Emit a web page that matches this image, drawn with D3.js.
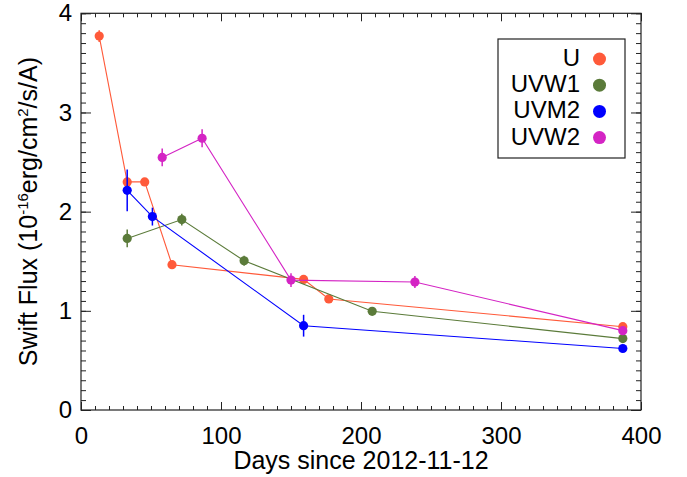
<!DOCTYPE html>
<html>
<head>
<meta charset="utf-8">
<script src="https://cdn.jsdelivr.net/npm/d3@7"></script>
<style>
  body { margin: 0; background: #fff; }
  text { font-family: "Liberation Sans", Arial, sans-serif; fill: #000; }
</style>
</head>
<body>
<div id="chart"></div>
<script>
// Swift UVOT light curves
var bands = ["U", "UVW1", "UVM2", "UVW2"];
var bandColors = ["#ff5a3a", "#5b7b3a", "#0000ff", "#d424c4"];

var uDays = [13, 33, 45.5, 65, 159, 177, 387];
var uFlux = [3.77, 2.30, 2.30, 1.465, 1.317, 1.12, 0.84];
var uErr  = [0.06, 0.04, 0.03, 0.03, 0.03, 0.03, 0.03];

var w1Days = [33, 72, 116.5, 208, 387];
var w1Flux = [1.73, 1.92, 1.505, 0.995, 0.72];
var w1Err  = [0.09, 0.06, 0.05, 0.03, 0.03];

var m2Days = [33, 51, 159, 387];
var m2Flux = [2.215, 1.95, 0.85, 0.62];
var m2Err  = [0.21, 0.09, 0.11, 0.03];

var w2Days = [58, 86.5, 150, 238.5, 387];
var w2Flux = [2.547, 2.74, 1.31, 1.29, 0.80];
var w2Err  = [0.09, 0.09, 0.07, 0.06, 0.04];

var xMajor = [0, 100, 200, 300, 400];
var yMajor = [0, 1, 2, 3, 4];

// canvas
var svgWidth = 687;
var svgHeight = 477;
var margin = { top: 13.3, right: 46, bottom: 67, left: 81 };
var chartWidth = svgWidth - margin.left - margin.right;
var chartHeight = svgHeight - margin.top - margin.bottom;

var svg = d3.select("#chart").append("svg")
    .attr("width", svgWidth)
    .attr("height", svgHeight);

var chartGroup = svg.append("g")
    .attr("transform", `translate(${margin.left}, ${margin.top})`);

var xScale = d3.scaleLinear().domain([0, 400]).range([0, chartWidth]);
var yScale = d3.scaleLinear().domain([0, 4]).range([chartHeight, 0]);

var axisColor = "#222";

// minor ticks, all four sides, pointing inward
function minor(axis, g) {
    g.call(axis).select(".domain").remove();
    g.selectAll("line").attr("stroke", axisColor);
}
var xMinor = d3.range(0, 401, 10);
var yMinor = d3.range(0, 4.01, 0.1);

minor(d3.axisBottom(xScale).tickValues(xMinor).tickSizeInner(-4).tickSizeOuter(0).tickFormat(""),
    chartGroup.append("g").attr("transform", `translate(0, ${chartHeight})`));
minor(d3.axisTop(xScale).tickValues(xMinor).tickSizeInner(-4).tickSizeOuter(0).tickFormat(""),
    chartGroup.append("g"));
minor(d3.axisLeft(yScale).tickValues(yMinor).tickSizeInner(-5).tickSizeOuter(0).tickFormat(""),
    chartGroup.append("g"));
minor(d3.axisRight(yScale).tickValues(yMinor).tickSizeInner(-5).tickSizeOuter(0).tickFormat(""),
    chartGroup.append("g").attr("transform", `translate(${chartWidth}, 0)`));

// major ticks
var xAxis = chartGroup.append("g")
    .attr("transform", `translate(0, ${chartHeight})`)
    .call(d3.axisBottom(xScale).tickValues(xMajor).tickSizeInner(-8).tickSizeOuter(0)
        .tickPadding(16.5).tickFormat(d3.format("d")));
var xTop = chartGroup.append("g")
    .call(d3.axisTop(xScale).tickValues(xMajor).tickSizeInner(-8).tickSizeOuter(0).tickFormat(""));
var yAxis = chartGroup.append("g")
    .call(d3.axisLeft(yScale).tickValues(yMajor).tickSizeInner(-10).tickSizeOuter(0)
        .tickPadding(9).tickFormat(d3.format("d")));
var yRight = chartGroup.append("g")
    .attr("transform", `translate(${chartWidth}, 0)`)
    .call(d3.axisRight(yScale).tickValues(yMajor).tickSizeInner(-10).tickSizeOuter(0).tickFormat(""));

[xAxis, xTop, yAxis, yRight].forEach(function (g) {
    g.select(".domain").remove();
    g.selectAll("line").attr("stroke", axisColor);
    g.selectAll("text")
        .style("font-family", '"Liberation Sans", Arial, sans-serif')
        .style("font-size", "24px")
        .attr("fill", "#000");
});

// frame
chartGroup.append("rect")
    .attr("width", chartWidth)
    .attr("height", chartHeight)
    .attr("fill", "none")
    .attr("stroke", axisColor)
    .attr("stroke-width", 1.2);

// series
var series = [
    { days: uDays, flux: uFlux, err: uErr },
    { days: w1Days, flux: w1Flux, err: w1Err },
    { days: m2Days, flux: m2Flux, err: m2Err },
    { days: w2Days, flux: w2Flux, err: w2Err }
];

var line = d3.line()
    .x(d => xScale(d.day))
    .y(d => yScale(d.flux));

series.forEach(function (s, i) {
    var pts = s.days.map((d, j) => ({ day: d, flux: s.flux[j], err: s.err[j] }));
    var color = bandColors[i];
    var g = chartGroup.append("g");

    g.append("path")
        .datum(pts)
        .attr("d", line)
        .attr("fill", "none")
        .attr("stroke", color)
        .attr("stroke-width", 1.1);

    g.selectAll("line.err")
        .data(pts)
        .enter()
        .append("line")
        .attr("x1", d => xScale(d.day))
        .attr("x2", d => xScale(d.day))
        .attr("y1", d => yScale(d.flux - d.err))
        .attr("y2", d => yScale(d.flux + d.err))
        .attr("stroke", color)
        .attr("stroke-width", 1.5);

    g.selectAll("circle")
        .data(pts)
        .enter()
        .append("circle")
        .attr("cx", d => xScale(d.day))
        .attr("cy", d => yScale(d.flux))
        .attr("r", 4.6)
        .attr("fill", color);
});

// axis titles
svg.append("text")
    .attr("x", margin.left + chartWidth / 2)
    .attr("y", 469)
    .attr("text-anchor", "middle")
    .style("font-size", "25px")
    .text("Days since 2012-11-12");

var yTitle = svg.append("text")
    .attr("transform", `translate(37, ${margin.top + chartHeight / 2}) rotate(-90)`)
    .attr("text-anchor", "middle")
    .style("font-size", "25px");
yTitle.append("tspan").text("Swift Flux (10");
yTitle.append("tspan").attr("dy", -9).style("font-size", "15px").text("-16");
yTitle.append("tspan").attr("dy", 9).text("erg/cm");
yTitle.append("tspan").attr("dy", -9).style("font-size", "15px").text("2");
yTitle.append("tspan").attr("dy", 9).text("/s/A)");

// legend
var legend = svg.append("g");
legend.append("rect")
    .attr("x", 498).attr("y", 39)
    .attr("width", 127).attr("height", 119)
    .attr("fill", "#fff")
    .attr("stroke", axisColor)
    .attr("stroke-width", 1.2);

var rows = legend.selectAll("g.row")
    .data(bands)
    .enter()
    .append("g")
    .attr("transform", (d, i) => `translate(0, ${59 + i * 26.2})`);

rows.append("text")
    .attr("x", 580)
    .attr("y", 7)
    .attr("text-anchor", "end")
    .style("font-size", "24px")
    .text(d => d);

rows.append("circle")
    .attr("cx", 599.5)
    .attr("cy", 0)
    .attr("r", 6.5)
    .attr("fill", (d, i) => bandColors[i]);
</script>
</body>
</html>
